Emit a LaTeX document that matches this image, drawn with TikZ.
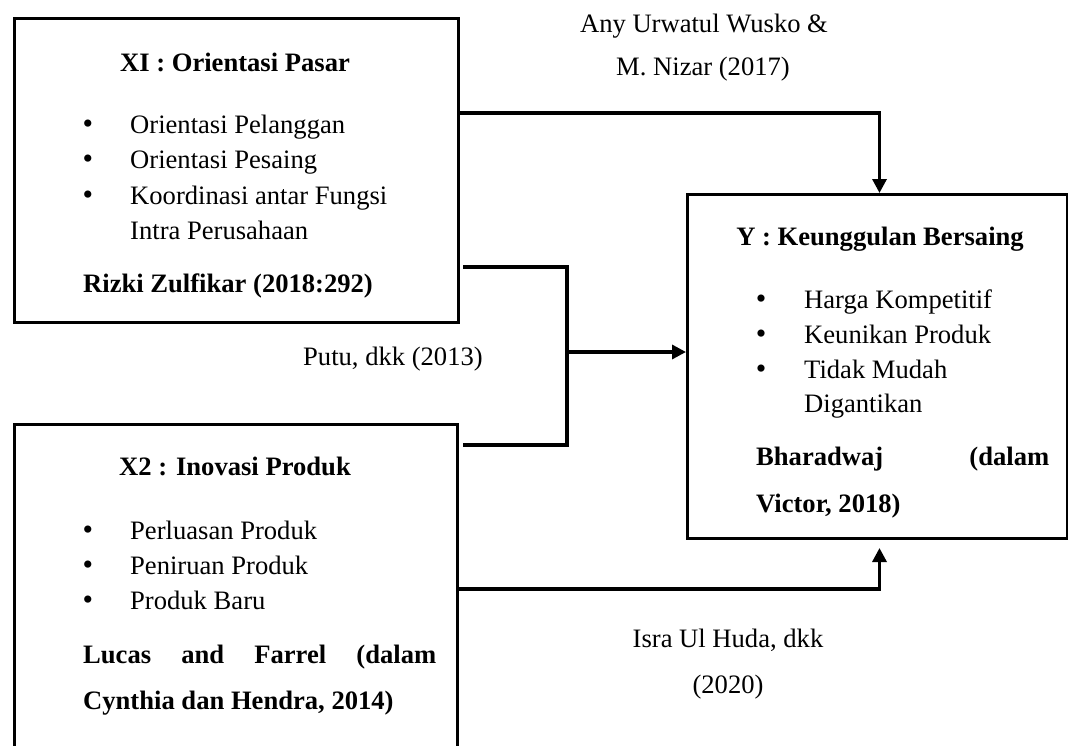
\documentclass[tikz,border=0pt]{standalone}
\usepackage{fontspec}
\setmainfont{Liberation Serif}
\usetikzlibrary{arrows.meta,calc}
\begin{document}
\begin{tikzpicture}[x=1pt,y=-1pt,
  box/.style={draw=black,line width=3pt,rectangle,inner sep=0pt,anchor=north west},
  conn/.style={draw=black,line width=3.3pt},
  arr/.style={conn,-{Triangle[length=14pt,width=14pt]}},
  txt/.style={anchor=base west,inner sep=0pt,font=\fontsize{26.6}{35}\selectfont},
  ctxt/.style={anchor=base,inner sep=0pt,font=\fontsize{26.6}{35}\selectfont},
  btxt/.style={txt,font=\fontsize{26.6}{35}\selectfont\bfseries},
  cbtxt/.style={ctxt,font=\fontsize{26.6}{35}\selectfont\bfseries},
  bul/.style={anchor=base,inner sep=0pt,font=\fontsize{30}{35}\selectfont}
]
\clip (0,0) rectangle (1068,745);
\fill[white] (0,0) rectangle (1068,745);

% boxes
\node[box,minimum width=444pt,minimum height=304pt] (x1) at (13,17) {};
\node[box,minimum width=443pt,minimum height=380pt] (x2) at (13,423) {};
\node[box,minimum width=380pt,minimum height=344pt] (y) at (686,193) {};

% X1 content
\node[cbtxt] (x1t) at (235,71) {XI : Orientasi Pasar};
\node[bul] (x1b1) at (88,133) {•};
\node[bul] (x1b2) at (88,168) {•};
\node[bul] (x1b3) at (88,204) {•};
\node[txt] (x1i1) at (130,133) {Orientasi Pelanggan};
\node[txt] (x1i2) at (130,168) {Orientasi Pesaing};
\node[txt] (x1i3) at (130,204) {Koordinasi antar Fungsi};
\node[txt] (x1i4) at (130,239) {Intra Perusahaan};
\node[btxt] (x1r) at (83,292) {Rizki Zulfikar (2018:292)};

% X2 content
\node[cbtxt] (x2t) at (235,475) {X2 : Inovasi Produk};
\node[bul] (x2b1) at (88,539) {•};
\node[bul] (x2b2) at (88,574) {•};
\node[bul] (x2b3) at (88,609) {•};
\node[txt] (x2i1) at (130,539) {Perluasan Produk};
\node[txt] (x2i2) at (130,574) {Peniruan Produk};
\node[txt] (x2i3) at (130,609) {Produk Baru};
\node[btxt] (x2r1) at (83,663) {\makebox[353pt][s]{Lucas and Farrel (dalam}};
\node[btxt] (x2r2) at (83,709) {Cynthia dan Hendra, 2014)};

% Y content
\node[cbtxt] (yt) at (880,245) {Y : Keunggulan Bersaing};
\node[bul] (yb1) at (761,308) {•};
\node[bul] (yb2) at (761,343) {•};
\node[bul] (yb3) at (761,378) {•};
\node[txt] (yi1) at (804,308) {Harga Kompetitif};
\node[txt] (yi2) at (804,343) {Keunikan Produk};
\node[txt] (yi3) at (804,378) {Tidak Mudah};
\node[txt] (yi4) at (804,412) {Digantikan};
\node[btxt] (yr1) at (756,465) {\makebox[293pt][s]{Bharadwaj (dalam}};
\node[btxt] (yr2) at (756,512) {Victor, 2018)};

% labels
\node[ctxt] (l1a) at (704,32) {Any Urwatul Wusko \&};
\node[ctxt] (l1b) at (703,75) {M. Nizar (2017)};
\node[txt] (l2) at (303,365) {Putu, dkk (2013)};
\node[ctxt] (l3a) at (728,647) {Isra Ul Huda, dkk};
\node[ctxt] (l3b) at (728,693) {(2020)};

% connectors
\draw[arr] ($(x1.north east)+(0,96)$) -| ($(y.north)+(2,0)$);
\coordinate (j) at (567,352);
\draw[conn] ($(x1.north east)+(3,250)$) -| (j);
\draw[conn] ($(x2.north east)+(4,22)$) -| (j);
\draw[arr] (j) -- (j -| y.west);
\draw[arr] ($(x2.north east)+(0,166)$) -| ($(y.south)+(2,8)$);
\end{tikzpicture}
\end{document}
